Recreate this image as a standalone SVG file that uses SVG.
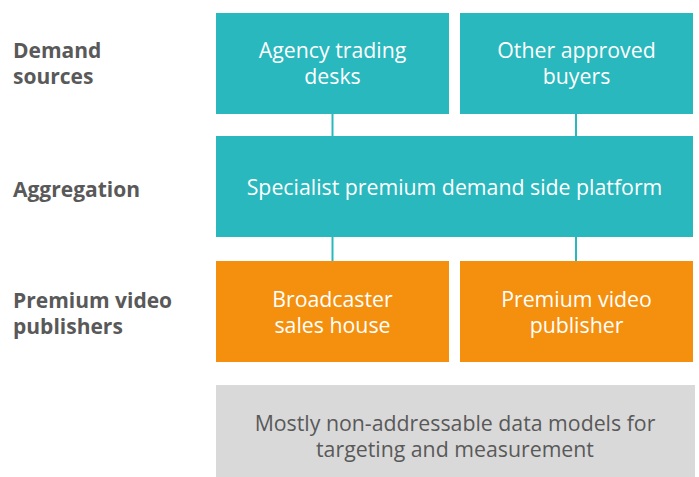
<svg xmlns="http://www.w3.org/2000/svg" width="699" height="477" viewBox="0 0 699 477">
<style>
.lbl{font-family:"Open Sans","Liberation Sans",sans-serif;font-size:21px;font-weight:bold;fill:#595959}
.bt{font-family:"Open Sans","Liberation Sans",sans-serif;font-size:21.3px;fill:#ffffff;text-anchor:middle}
.gt{font-family:"Open Sans","Liberation Sans",sans-serif;font-size:21.3px;fill:#595959;text-anchor:middle}
.teal{fill:#28B8BD}
.orange{fill:#F5900E}
.gray{fill:#D9D9D9}
.conn{stroke:#28B8BD;stroke-width:2;fill:none}
</style>
<rect width="699" height="477" fill="#ffffff"/>
<g id="labels">
<text class="lbl" x="13" y="58">Demand<tspan x="13" dy="26">sources</tspan></text>
<text class="lbl" x="13" y="197">Aggregation</text>
<text class="lbl" x="13" y="308">Premium video<tspan x="13" dy="26">publishers</tspan></text>
</g>
<g id="connectors">
<line class="conn" x1="332.5" y1="114" x2="332.5" y2="136"/>
<line class="conn" x1="576" y1="114" x2="576" y2="136"/>
<line class="conn" x1="332.5" y1="237" x2="332.5" y2="261"/>
<line class="conn" x1="576" y1="237" x2="576" y2="261"/>
</g>
<g id="agency">
<rect class="teal" x="216" y="13" width="233" height="101"/>
<text class="bt" x="332.5" y="58">Agency trading<tspan x="332.5" dy="26">desks</tspan></text>
</g>
<g id="other">
<rect class="teal" x="460" y="13" width="233" height="101"/>
<text class="bt" x="576.5" y="58">Other approved<tspan x="576.5" dy="26">buyers</tspan></text>
</g>
<g id="dsp">
<rect class="teal" x="216" y="136" width="477" height="101"/>
<text class="bt" x="454.5" y="195">Specialist premium demand side platform</text>
</g>
<g id="broadcaster">
<rect class="orange" x="216" y="261" width="233" height="101"/>
<text class="bt" x="332.5" y="307">Broadcaster<tspan x="332.5" dy="26">sales house</tspan></text>
</g>
<g id="publisher">
<rect class="orange" x="460" y="261" width="233" height="101"/>
<text class="bt" x="576.5" y="307">Premium video<tspan x="576.5" dy="26">publisher</tspan></text>
</g>
<g id="data">
<rect class="gray" x="216" y="385" width="479" height="92"/>
<text class="gt" x="455" y="431">Mostly non-addressable data models for<tspan x="455" dy="26">targeting and measurement</tspan></text>
</g>
</svg>
